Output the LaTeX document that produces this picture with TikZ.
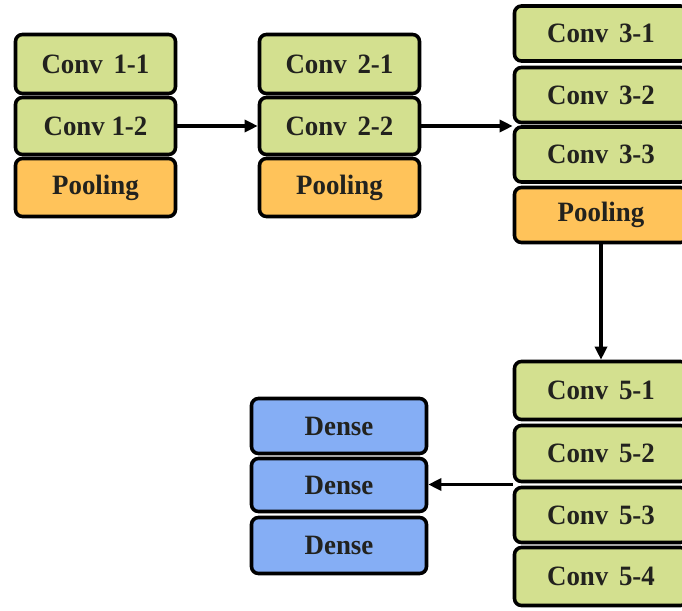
\documentclass[tikz,border=0pt]{standalone}
\usepackage{fontspec}
\setmainfont{Liberation Serif}
\usetikzlibrary{arrows.meta,calc}
\definecolor{convgreen}{RGB}{211,224,143}
\definecolor{poolorange}{RGB}{255,195,90}
\definecolor{denseblue}{RGB}{133,174,245}
\definecolor{txt}{RGB}{34,34,30}
\newcommand{\lbl}[1]{\scalebox{0.96}[1]{#1}}
\newcommand{\wsp}{\hspace{0.4em}}
\tikzset{
  layer/.style={draw=black, line width=3.6pt, rounded corners=7pt,
    inner sep=0pt, text=txt,
    font=\bfseries\fontsize{28}{30}\selectfont},
  conv/.style={layer, fill=convgreen},
  pool/.style={layer, fill=poolorange},
  dense/.style={layer, fill=denseblue},
  link/.style={line width=3.2pt, -{Triangle[length=13pt,width=12pt]}}
}
\begin{document}
\begin{tikzpicture}[x=1pt,y=-1pt]
\useasboundingbox (0,0) rectangle (682,610);
\clip (0,0) rectangle (682,610);
% block 1
\node[conv, minimum width=160, minimum height=59] (c11) at (95.5,64) {\lbl{Conv\wsp 1-1}};
\node[conv, minimum width=160, minimum height=57] (c12) at (95.5,126) {\lbl{Conv 1-2}};
\node[pool, minimum width=160, minimum height=58] (p1) at (95.5,187.5) {\lbl{Pooling}};
% block 2
\node[conv, minimum width=160, minimum height=59] (c21) at (339.5,64) {\lbl{Conv\wsp 2-1}};
\node[conv, minimum width=160, minimum height=57] (c22) at (339.5,126) {\lbl{Conv\wsp 2-2}};
\node[pool, minimum width=160, minimum height=58] (p2) at (339.5,187.5) {\lbl{Pooling}};
% block 3
\node[conv, minimum width=173, minimum height=55] (c31) at (601,33.5) {\lbl{Conv\wsp 3-1}};
\node[conv, minimum width=173, minimum height=55] (c32) at (601,95) {\lbl{Conv\wsp 3-2}};
\node[conv, minimum width=173, minimum height=55] (c33) at (601,154.5) {\lbl{Conv\wsp 3-3}};
\node[pool, minimum width=173, minimum height=55] (p3) at (601,215) {\lbl{Pooling}};
% block 5
\node[conv, minimum width=173, minimum height=58] (c51) at (601,390.5) {\lbl{Conv\wsp 5-1}};
\node[conv, minimum width=173, minimum height=56] (c52) at (601,453.5) {\lbl{Conv\wsp 5-2}};
\node[conv, minimum width=173, minimum height=55] (c53) at (601,515) {\lbl{Conv\wsp 5-3}};
\node[conv, minimum width=173, minimum height=58] (c54) at (601,576.5) {\lbl{Conv\wsp 5-4}};
% dense layers
\node[dense, minimum width=175, minimum height=55] (d1) at (339,426) {\lbl{Dense}};
\node[dense, minimum width=175, minimum height=53] (d2) at (339,485) {\lbl{Dense}};
\node[dense, minimum width=175, minimum height=56] (d3) at (339,545.5) {\lbl{Dense}};
% connections
\coordinate (out5) at ($(c52.south west)!0.5!(c53.north west)$);
\draw[link] (c12.east) -- (c22.west);
\draw[link] (c22.east) -- (c22.east -| c33.west);
\draw[link] (p3.south) -- (c51.north);
\draw[link] (out5) -- (d2.east |- out5);
\end{tikzpicture}
\end{document}
